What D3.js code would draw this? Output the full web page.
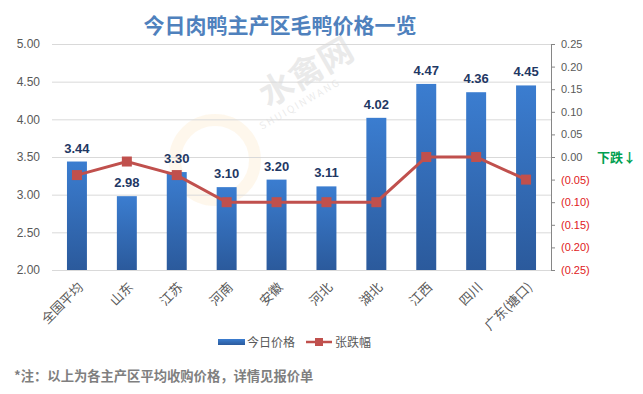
<!DOCTYPE html>
<html>
<head>
<meta charset="utf-8">
<script src="https://cdn.jsdelivr.net/npm/d3@7"></script>
<style>
  body { margin: 0; background: #fff; }
  svg { font-family: "Microsoft YaHei", "Noto Sans CJK SC", sans-serif; }
</style>
</head>
<body>
<svg id="chart" width="643" height="394"></svg>
<script>
// data
var regions = ['全国平均', '山东', '江苏', '河南', '安徽', '河北', '湖北', '江西', '四川', '广东(塘口)'];
var prices = [3.44, 2.98, 3.30, 3.10, 3.20, 3.11, 4.02, 4.47, 4.36, 4.45];
var changes = [-0.04, -0.01, -0.04, -0.10, -0.10, -0.10, -0.10, 0.00, 0.00, -0.05];
var leftTicks = [2.0, 2.5, 3.0, 3.5, 4.0, 4.5, 5.0];
var rightTicks = [-0.25, -0.2, -0.15, -0.1, -0.05, 0, 0.05, 0.1, 0.15, 0.2, 0.25];

var svg = d3.select('#chart');
var plotL = 52, plotR = 551, plotT = 44, plotB = 270;

var x = d3.scaleBand().domain(regions).range([plotL, plotR]).paddingInner(0.6).paddingOuter(0.3);
var yL = d3.scaleLinear().domain([2, 5]).range([plotB, plotT]);
var yR = d3.scaleLinear().domain([-0.25, 0.25]).range([plotB, plotT]);

var defs = svg.append('defs');
var grad = defs.append('linearGradient').attr('id', 'barGrad').attr('x1', 0).attr('y1', 0).attr('x2', 0).attr('y2', 1);
grad.append('stop').attr('offset', '0%').attr('stop-color', '#3b7dd0');
grad.append('stop').attr('offset', '100%').attr('stop-color', '#2b5a9c');

// watermark
var wm = svg.append('g');
wm.append('circle').attr('cx', 215).attr('cy', 160).attr('r', 40)
  .attr('fill', 'none').attr('stroke', '#f3c060').attr('stroke-width', 12).attr('opacity', 0.12);
wm.append('text').attr('x', 268).attr('y', 108).attr('transform', 'rotate(-30,268,108)')
  .attr('font-size', 34).attr('font-weight', 'bold').attr('fill', '#000').attr('opacity', 0.08).text('水禽网');
wm.append('text').attr('x', 262).attr('y', 130).attr('transform', 'rotate(-30,262,130)')
  .attr('font-size', 10).attr('fill', '#000').attr('opacity', 0.08).attr('letter-spacing', 2).text('SHUIQINWANG');

// title
svg.append('text').attr('x', 280).attr('y', 33).attr('text-anchor', 'middle')
  .attr('font-size', 21).attr('font-weight', 'bold').attr('fill', '#4f81bd')
  .text('今日肉鸭主产区毛鸭价格一览');

// grid + left axis
var gAxisL = svg.append('g').attr('transform', 'translate(' + plotL + ',0)')
  .call(d3.axisLeft(yL).tickValues(leftTicks).tickFormat(d3.format('.2f')).tickSize(-(plotR - plotL)).tickPadding(12));
gAxisL.select('.domain').remove();
gAxisL.selectAll('.tick line').attr('stroke', '#d9d9d9');
gAxisL.selectAll('.tick text').attr('fill', '#595959').attr('font-size', 12)
  .attr('font-family', '"Liberation Sans", Arial, sans-serif');

// right axis
var gAxisR = svg.append('g').attr('transform', 'translate(' + plotR + ',0)')
  .call(d3.axisRight(yR).tickValues(rightTicks).tickSize(4).tickPadding(6)
    .tickFormat(function(d) {
      var s = d3.format('.2f')(Math.abs(d));
      return d < -1e-9 ? '(' + s + ')' : s;
    }));
gAxisR.select('.domain').attr('stroke', '#868686');
gAxisR.selectAll('.tick line').attr('stroke', '#868686');
gAxisR.selectAll('.tick text').attr('font-size', 11)
  .attr('font-family', '"Liberation Sans", Arial, sans-serif')
  .attr('fill', function(d) { return d < -1e-9 ? '#e0201c' : '#595959'; });

// bars
svg.append('g').selectAll('rect').data(prices).enter().append('rect')
  .attr('x', function(d, i) { return x(regions[i]); })
  .attr('y', function(d) { return yL(d); })
  .attr('width', x.bandwidth())
  .attr('height', function(d) { return plotB - yL(d); })
  .attr('fill', 'url(#barGrad)');

// bar labels
svg.append('g').selectAll('text').data(prices).enter().append('text')
  .attr('x', function(d, i) { return x(regions[i]) + x.bandwidth() / 2; })
  .attr('y', function(d) { return yL(d) - 9; })
  .attr('text-anchor', 'middle').attr('font-size', 13).attr('font-weight', 'bold')
  .attr('font-family', '"Liberation Sans", Arial, sans-serif')
  .attr('fill', '#1f3864')
  .text(function(d) { return d3.format('.2f')(d); });

// change line
var line = d3.line()
  .x(function(d, i) { return x(regions[i]) + x.bandwidth() / 2; })
  .y(function(d) { return yR(d); });
svg.append('path').datum(changes).attr('d', line)
  .attr('fill', 'none').attr('stroke', '#c0504d').attr('stroke-width', 3);
svg.append('g').selectAll('rect').data(changes).enter().append('rect')
  .attr('x', function(d, i) { return x(regions[i]) + x.bandwidth() / 2 - 5; })
  .attr('y', function(d) { return yR(d) - 5; })
  .attr('width', 10).attr('height', 10).attr('fill', '#c0504d');

// x labels
svg.append('g').selectAll('text').data(regions).enter().append('text')
  .attr('transform', function(d) {
    var cx = x(d) + x.bandwidth() / 2 + 7;
    return 'translate(' + cx + ',' + (plotB + 18) + ') rotate(-45)';
  })
  .attr('text-anchor', 'end').attr('font-size', 13).attr('fill', '#595959')
  .text(function(d) { return d; });

// 下跌 label
svg.append('text').attr('x', 597).attr('y', 162).attr('font-size', 13).attr('font-weight', 'bold')
  .attr('fill', '#00a050').text('下跌↓');

// legend
var lg = svg.append('g');
lg.append('rect').attr('x', 218).attr('y', 339).attr('width', 27).attr('height', 6).attr('fill', 'url(#barGrad)');
lg.append('text').attr('x', 247).attr('y', 347).attr('font-size', 12).attr('fill', '#595959').text('今日价格');
lg.append('line').attr('x1', 306).attr('x2', 332).attr('y1', 342).attr('y2', 342)
  .attr('stroke', '#c0504d').attr('stroke-width', 2.5);
lg.append('rect').attr('x', 315).attr('y', 338).attr('width', 8).attr('height', 8).attr('fill', '#c0504d');
lg.append('text').attr('x', 335).attr('y', 347).attr('font-size', 12).attr('fill', '#595959').text('张跌幅');

// note
svg.append('text').attr('x', 14).attr('y', 381).attr('font-size', 13.3).attr('font-weight', 'bold')
  .attr('fill', '#7f7f7f').text('*注：以上为各主产区平均收购价格，详情见报价单');
</script>
</body>
</html>
